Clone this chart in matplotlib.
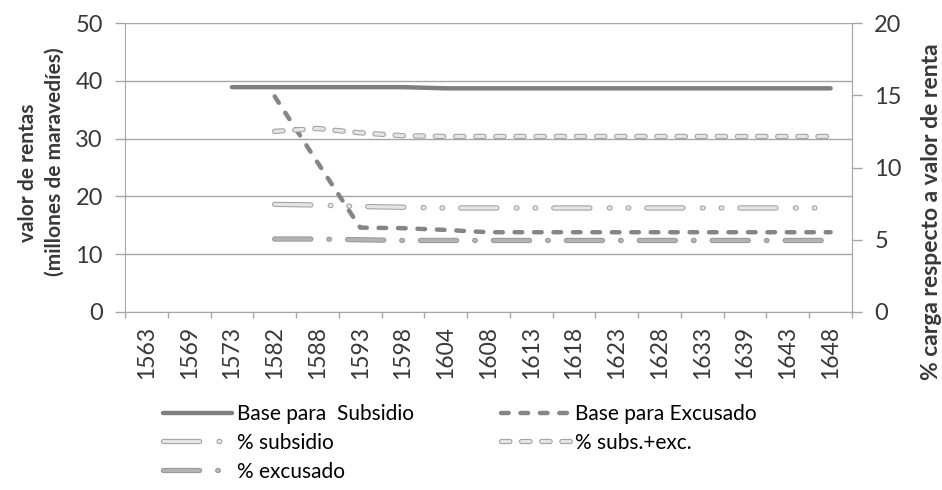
import numpy as np
import matplotlib
matplotlib.use("Agg")
import matplotlib.pyplot as plt
import matplotlib.patheffects as pe

plt.rcParams["font.family"] = ["Lato", "DejaVu Sans"]
plt.rcParams["lines.scale_dashes"] = False

nan = np.nan
years = ["1563", "1569", "1573", "1582", "1588", "1593", "1598", "1604", "1608",
         "1613", "1618", "1623", "1628", "1633", "1639", "1643", "1648"]
# millones de maravedíes (eje izq.)
base_sub = [nan, nan, 38.9, 38.9, 38.9, 38.9, 38.9, 38.7, 38.7,
            38.7, 38.7, 38.7, 38.7, 38.7, 38.7, 38.7, 38.7]
base_exc = [nan, nan, nan, 37.3, 25.9, 14.6, 14.5, 14.2, 13.8,
            13.8, 13.8, 13.8, 13.8, 13.8, 13.8, 13.8, 13.8]
# % (eje der.)
pct_sub = [nan, nan, nan, 7.45, 7.4, 7.3, 7.25, 7.2, 7.2,
           7.2, 7.2, 7.2, 7.2, 7.2, 7.2, 7.2, 7.2]
pct_se = [nan, nan, nan, 12.5, 12.7, 12.4, 12.2, 12.15, 12.15,
          12.15, 12.15, 12.15, 12.15, 12.15, 12.15, 12.15, 12.15]
pct_exc = [nan, nan, nan, 5.05, 5.05, 5.0, 4.95, 4.95, 4.95,
           4.95, 4.95, 4.95, 4.95, 4.95, 4.95, 4.95, 4.95]

GRID = "#a6a6a6"; DARK = "#7f7f7f"; TXT = "#383838"; FS = 15

fig = plt.figure(figsize=(9.42, 4.90), dpi=100)
ax = fig.add_axes([125/942, 1-312/490, (852-125)/942, (312-23)/490])
ax2 = ax.twinx()
x = np.arange(len(years))

outline = lambda c, w: [pe.Stroke(linewidth=w, foreground=c), pe.Normal()]

l1, = ax.plot(x, base_sub, color=DARK, lw=3.2, solid_capstyle="round",
              label="Base para  Subsidio")
l2, = ax.plot(x, base_exc, color="#858585", lw=3.2, dashes=(5.5, 8.5),
              dash_capstyle="round", label="Base para Excusado")
l3, = ax2.plot(x, pct_sub, color="#e4e4e4", lw=2.4, dashes=(26, 14, 0.5, 13, 0.5, 13),
               dash_capstyle="round", label="% subsidio",
               path_effects=outline("#9c9c9c", 3.8))
l4, = ax2.plot(x, pct_se, color="#e4e4e4", lw=2.4, dashes=(6, 8.5),
               dash_capstyle="round", label="% subs.+exc.",
               path_effects=outline("#9c9c9c", 3.8))
l5, = ax2.plot(x, pct_exc, color="#b3b3b3", lw=2.4, dashes=(26, 13, 0.5, 13),
               dash_capstyle="round", label="% excusado",
               path_effects=outline("#969696", 3.8))

ax.set_xlim(-0.5, len(years) - 0.5)
ax.set_ylim(0, 50); ax2.set_ylim(0, 20)
ax.set_yticks(range(0, 51, 10)); ax2.set_yticks(range(0, 21, 5))
ax.yaxis.grid(True, color=GRID, lw=1.0)
ax.set_axisbelow(True)

ax.set_xticks(np.arange(-0.5, len(years)), labels=[""] * (len(years) + 1))
ax.set_xticks(x, labels=years, minor=True, rotation=90)
ax.tick_params(axis="x", which="major", length=4.5, color=GRID, width=1)
ax.tick_params(axis="x", which="minor", length=0, pad=10, labelsize=FS + 1.5, labelcolor=TXT)
ax.tick_params(axis="y", length=7, color=GRID, width=1, pad=9, labelsize=FS + 2, labelcolor=TXT)
ax2.tick_params(axis="y", length=7, color=GRID, width=1, pad=9, labelsize=FS + 2, labelcolor=TXT)

for a in (ax, ax2):
    a.spines["top"].set_visible(False)
    for s in ("left", "right", "bottom"):
        a.spines[s].set_color(GRID)
ax2.spines["left"].set_visible(False); ax2.spines["bottom"].set_visible(False)

fig.text(28/942, 1-173/490, "valor de rentas", rotation=90, ha="center", va="center",
         fontsize=FS, fontweight="bold", color=TXT)
fig.text(55/942, 1-162/490, "(millones de maravedíes)", rotation=90, ha="center", va="center",
         fontsize=FS, fontweight="bold", color=TXT)
fig.text(931/942, 1-212/490, "% carga respecto a valor de renta", rotation=90,
         ha="center", va="center", fontsize=FS + 1.5, fontweight="bold", color=TXT)

fig.legend([l1, l3, l5, l2, l4], [h.get_label() for h in (l1, l3, l5, l2, l4)],
           ncol=2, loc="upper left", bbox_to_anchor=(163/942, 1-404/490),
           frameon=False, fontsize=FS, handlelength=3.3, handletextpad=0.25,
           columnspacing=4.2, labelspacing=0.42, borderaxespad=0, borderpad=0)

fig.savefig("out.png", dpi=100)
